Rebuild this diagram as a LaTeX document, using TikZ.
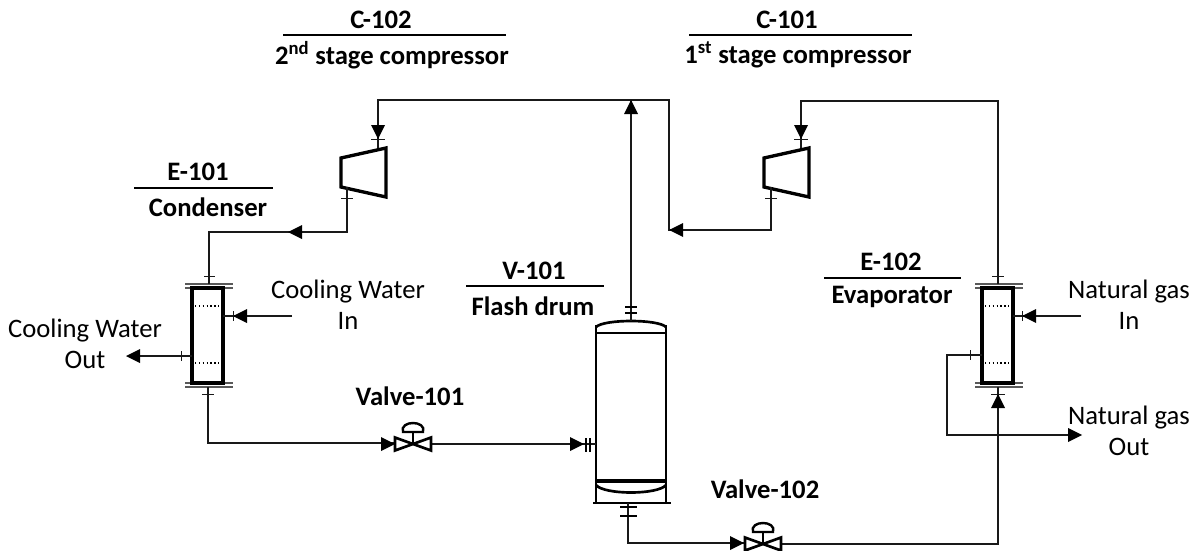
\documentclass[tikz,border=0pt]{standalone}
\usepackage{fontspec}
\setmainfont{Carlito}
\tikzset{
  x=0.75pt,y=-0.75pt,
  pipe/.style={line width=1pt,black!90},
  thin tick/.style={line width=0.7pt,black!90},
  heavy/.style={line width=2.5pt,black,line join=miter},
  drumline/.style={line width=2pt,black,line join=miter},
  flange/.style={line width=1.1pt,black!65},
  tip/.style={fill=black,draw=none},
  labelb/.style={font=\fontsize{20}{23}\selectfont\bfseries,align=center,inner sep=0pt},
  labeln/.style={font=\fontsize{20}{23}\selectfont,align=center,inner sep=0pt},
  titlerule/.style={line width=1.2pt,black},
}
\newcommand{\arrU}[2]{\fill[tip] (#1,#2) -- ++(-7,14) -- ++(14,0) -- cycle;}
\newcommand{\arrD}[2]{\fill[tip] (#1,#2) -- ++(-7,-14) -- ++(14,0) -- cycle;}
\newcommand{\arrL}[2]{\fill[tip] (#1,#2) -- ++(14,-7) -- ++(0,14) -- cycle;}
\newcommand{\arrR}[2]{\fill[tip] (#1,#2) -- ++(-14,-7) -- ++(0,14) -- cycle;}
\newcommand{\hx}[1]{% left edge x of exchanger
  \draw[flange] (#1-7,284) -- (#1+41,284) (#1-7,288) -- (#1+41,288)
                (#1-7,383) -- (#1+41,383) (#1-7,387) -- (#1+41,387);
  \draw[heavy] (#1,288) rectangle (#1+31,383);
  \draw[line width=0.9pt,dotted] (#1+3,306) -- (#1+29,306) (#1+3,363) -- (#1+29,363);
}
\newcommand{\comp}[1]{% left x of compressor
  \draw[heavy] (#1,158) -- (#1+45,148) -- (#1+45,197) -- (#1,187) -- cycle;
}
\newcommand{\valve}[2]{% centre
  \draw[line width=2pt,line join=miter] (#1-18,#2-6.5) -- (#1+18,#2+6.5) -- (#1+18,#2-6.5) -- (#1-18,#2+6.5) -- cycle;
  \draw[line width=1.5pt] (#1,#2) -- (#1,#2-12);
  \draw[line width=1.8pt] (#1-10,#2-12) -- (#1+10,#2-12) .. controls (#1+14,#2-24) and (#1-14,#2-24) .. (#1-10,#2-12) -- cycle;
}
\begin{document}
\begin{tikzpicture}
\useasboundingbox (0,0) rectangle (1195,550);
% equipment
\comp{341}
\comp{764}
\hx{192}
\hx{982}
% drum
\draw[drumline] (596,325) -- (596,487) (666,325) -- (666,487);
\draw[drumline] (596,333) -- (666,333);
\draw[heavy] (596,481) -- (666,481);
\draw[drumline] (596,327) .. controls (604,319) and (658,319) .. (666,327);
\draw[drumline] (596,485) .. controls (604,495) and (658,495) .. (666,485);
\draw[line width=0.9pt] (596,487) -- (596,503) (666,487) -- (666,503) (593,503) -- (671,503);
% pipes
\draw[pipe] (631,321) -- (631,100);
\draw[pipe] (378,148) -- (378,100) -- (669,100) -- (669,230) -- (771,230) -- (771,187);
\draw[pipe] (347,187) -- (347,232) -- (209,232) -- (209,284);
\draw[pipe] (801,148) -- (801,101) -- (998,101) -- (998,284);
\draw[pipe] (292,316) -- (223,316);
\draw[pipe] (192,356) -- (130,356);
\draw[pipe] (208,387) -- (208,443) -- (395,443);
\draw[pipe] (431,444) -- (596,444);
\draw[pipe] (628,503) -- (628,543) -- (745,543);
\draw[pipe] (781,544) -- (998,544) -- (998,387);
\draw[pipe] (1081,316) -- (1013,316);
\draw[pipe] (982,355) -- (947,355) -- (947,435) -- (1075,435);
% ticks
\draw[thin tick] (371,139) -- (385,139) (341,198) -- (353,198) (204,276) -- (215,276)
  (202,394) -- (214,394) (233,311) -- (233,321) (181,351) -- (181,361)
  (794,139) -- (808,139) (765,198) -- (777,198) (992,276) -- (1004,276)
  (1022,311) -- (1022,321) (970,350) -- (970,360) (991,394) -- (1005,394);
\draw[line width=1.1pt] (586,438) -- (586,452) (590,438) -- (590,452)
  (625,307) -- (637,307) (625,313) -- (637,313)
  (620,507) -- (637,507) (620,516) -- (637,516);
% arrowheads
\arrD{378}{139}\arrD{801}{139}\arrU{631}{100}
\arrL{288}{232}\arrL{669}{230}\arrL{233}{316}\arrL{1022}{316}\arrL{126}{356}
\arrU{998}{394}\arrR{1082}{435}\arrR{395}{444}\arrR{584}{444}\arrR{744}{543}
% valves
\valve{413}{444}
\valve{763}{544}
% titles
\draw[titlerule] (283,35) -- (506,35) (689,35) -- (912,35) (134,188) -- (273,188)
  (466,286) -- (604,286) (824,278) -- (961,278);
\node[labelb] (c102) at (381,20) {C-102};
\node[labelb] (c102b) at (392,55) {2\textsuperscript{nd} stage compressor};
\node[labelb] (c101) at (787,20) {C-101};
\node[labelb] (c101b) at (798,55) {1\textsuperscript{st} stage compressor};
\node[labelb] (e101) at (198,172) {E-101};
\node[labelb] (e101b) at (208,207) {Condenser};
\node[labelb] (v101) at (534,271) {V-101};
\node[labelb] (v101b) at (533,306) {Flash drum};
\node[labelb] (e102) at (891,262) {E-102};
\node[labelb] (e102b) at (892,297) {Evaporator};
\node[labelb] (v1) at (410,396) {Valve-101};
\node[labelb] (v2) at (765,489) {Valve-102};
\node[labeln] (cwi) at (348,305) {Cooling Water\\In};
\node[labeln] (cwo) at (85,344) {Cooling Water\\Out};
\node[labeln] (ngi) at (1129,305) {Natural gas\\In};
\node[labeln] (ngo) at (1129,431) {Natural gas\\Out};
\end{tikzpicture}
\end{document}
